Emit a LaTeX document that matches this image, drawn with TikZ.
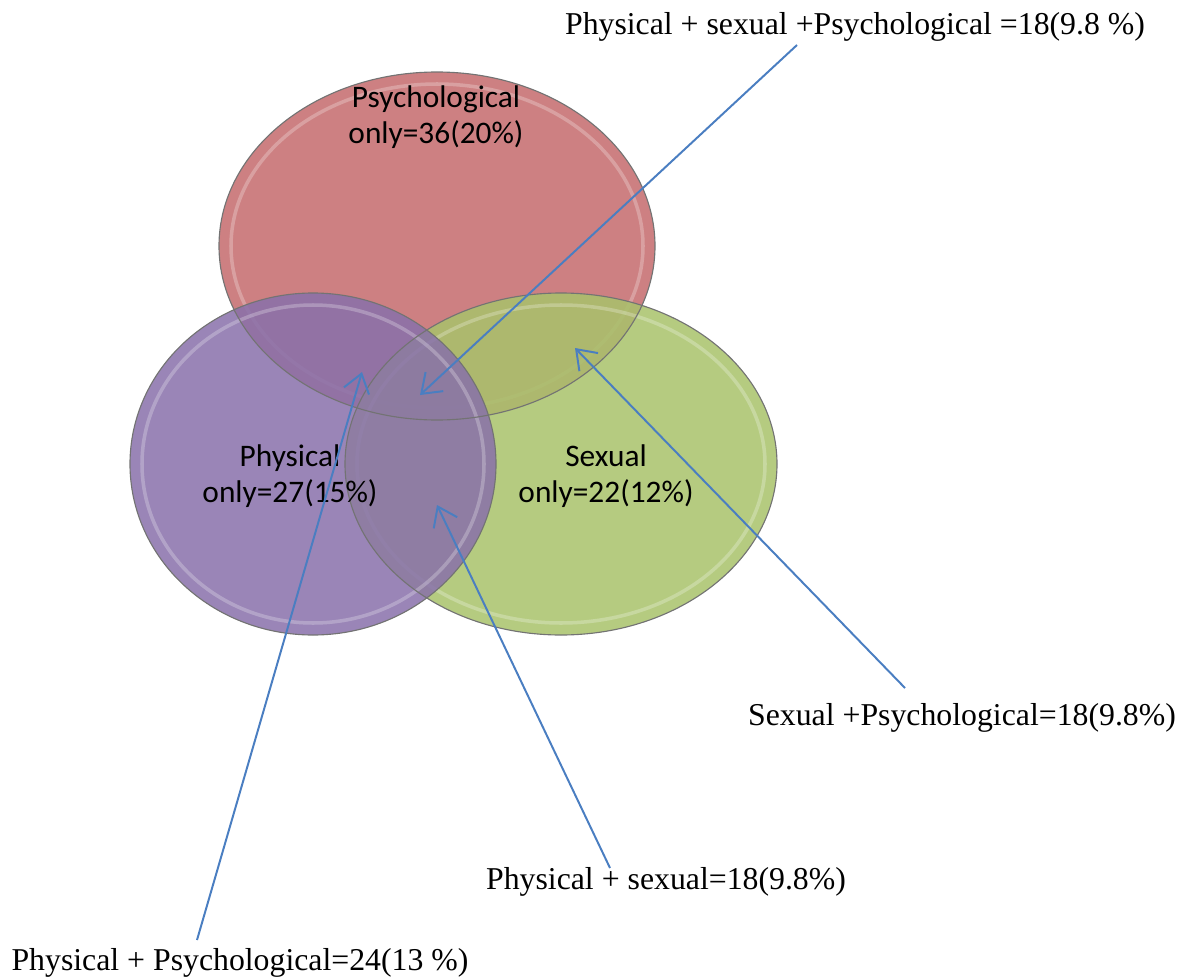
\documentclass[tikz,border=0pt]{standalone}
\usepackage{fontspec}
\setmainfont{Liberation Serif}
\newfontfamily\venfont{Carlito}
\usetikzlibrary{positioning, arrows.meta}

\definecolor{psyred}{RGB}{196,106,108}
\definecolor{phypurple}{RGB}{136,112,170}
\definecolor{sexgreen}{RGB}{168,194,106}
\definecolor{arrowblue}{RGB}{74,126,193}

\tikzset{
  venn/.style={fill opacity=0.85},
  rim/.style={draw=white, line width=2.5pt, draw opacity=0.25},
  inlabel/.style={font=\venfont\fontsize{22.3}{26}\selectfont, align=center, text=black},
  outlabel/.style={font=\fontsize{22.6}{26}\selectfont, inner sep=0pt},
  pointer/.style={draw=arrowblue, line width=1.4pt, -{Straight Barb[length=4.5mm, width=6.5mm, line width=1.4pt]}}
}

\begin{document}
\begin{tikzpicture}[x=0.025cm, y=-0.025cm]
	\useasboundingbox (0,0) rectangle (1184,979);
	
	% the three sets
	\fill[venn, fill=psyred] (437,246) ellipse [x radius=218, y radius=174];
	\draw[rim] (437,246) ellipse [x radius=206, y radius=162];
	\fill[venn, fill=sexgreen] (561,464) ellipse [x radius=216, y radius=171];
	\draw[rim] (561,464) ellipse [x radius=204, y radius=159];
	\fill[venn, fill=phypurple] (313,464) ellipse [x radius=183, y radius=171];
	\draw[rim] (313,464) ellipse [x radius=171, y radius=159];
	\draw[black!55, line width=0.8pt] (437,246) ellipse [x radius=218, y radius=174];
	\draw[black!55, line width=0.8pt] (561,464) ellipse [x radius=216, y radius=171];
	\draw[black!55, line width=0.8pt] (313,464) ellipse [x radius=183, y radius=171];
	
	\node[inlabel] (psy) at (436,117) {Psychological\\only=36(20\%)};
	\node[inlabel] (phy) at (290,476) {Physical\\only=27(15\%)};
	\node[inlabel] (sex) at (606,476) {Sexual\\only=22(12\%)};
	
	% labels of the overlaps
	\node[outlabel] (all) at (855,27) {Physical + sexual +Psychological =18(9.8 \%)};
	\node[outlabel] (sexpsy) at (962,718) {Sexual +Psychological=18(9.8\%)};
	\node[outlabel] (physex) at (666,882) {Physical + sexual=18(9.8\%)};
	\node[outlabel] (phypsy) at (240,963) {Physical + Psychological=24(13 \%)};
	
	\coordinate (allfrom) at (797,45);
	\coordinate (allto) at (420,395);
	\coordinate (sexpsyfrom) at (905,688);
	\coordinate (sexpsyto) at (575,348);
	\coordinate (physexfrom) at (610,868);
	\coordinate (physexto) at (437,505);
	\coordinate (phypsyfrom) at (197,940);
	\coordinate (phypsyto) at (362,372);
	
	\foreach \s in {all, sexpsy, physex, phypsy} {
		\draw[pointer] (\s from) -- (\s to);
	};
\end{tikzpicture}
\end{document}
